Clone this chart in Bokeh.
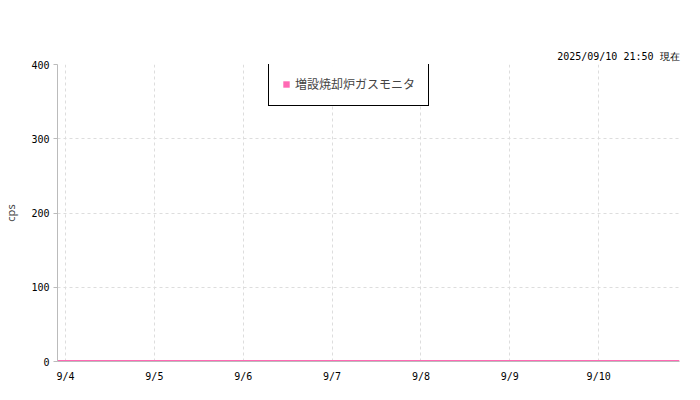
import pandas as pd
from bokeh.plotting import figure
from bokeh.models import Range1d, FixedTicker, Legend, LegendItem
from bokeh.embed import file_html
from bokeh.resources import INLINE

series_name = "増設焼却炉ガスモニタ"
timestamp_text = "2025/09/10 21:50 現在"
y_label = "cps"

times = [
    "2025-09-03 21:50", "2025-09-04 00:00", "2025-09-05 00:00", "2025-09-06 00:00",
    "2025-09-07 00:00", "2025-09-08 00:00", "2025-09-09 00:00", "2025-09-10 00:00",
    "2025-09-10 21:50",
]
cps = [0, 0, 0, 0, 0, 0, 0, 0, 0]

tick_dates = ["2025-09-04", "2025-09-05", "2025-09-06", "2025-09-07",
              "2025-09-08", "2025-09-09", "2025-09-10"]
tick_labels = ["9/4", "9/5", "9/6", "9/7", "9/8", "9/9", "9/10"]
y_ticks = [0, 100, 200, 300, 400]
x_start = "2025-09-03 21:50"
x_end = "2025-09-10 21:50"

ORIGIN = pd.Timestamp(tick_dates[0])


def days(s):
    return float((pd.Timestamp(s) - ORIGIN) / pd.Timedelta(days=1))


x_days = [days(t) for t in times]
tick_pos = [int(round(days(t))) for t in tick_dates]

MONO = "DejaVu Sans Mono"
PINK = "#ff69b4"

p = figure(width=684, height=384, output_backend="svg", toolbar_location=None,
           x_range=Range1d(days(x_start), days(x_end)), y_range=Range1d(0, 400),
           min_border_left=51, min_border_right=5, min_border_bottom=22, min_border_top=64)
p.outline_line_color = None

p.title.text = timestamp_text
p.title.align = "right"
p.title.text_font = MONO
p.title.text_font_size = "10px"
p.title.text_font_style = "normal"
p.title.text_color = "black"
p.title.standoff = 6

line_r = p.line(x_days, cps, line_color=PINK, line_width=3)
# legend key only (hidden in the plot, used for the square swatch)
key = p.vbar(x=x_days, top=cps, width=0.01, fill_color=PINK, line_color=None, visible=False)

# axes
p.xaxis.ticker = FixedTicker(ticks=tick_pos)
p.xaxis.major_label_overrides = {t: l for t, l in zip(tick_pos, tick_labels)}
p.xaxis.major_tick_line_color = None
p.xaxis.minor_tick_line_color = None
p.xaxis.axis_line_color = "#bbbbbb"
p.xaxis.major_label_text_font = MONO
p.xaxis.major_label_text_font_size = "10px"
p.xaxis.major_label_text_color = "black"
p.xaxis.major_label_standoff = 3

p.yaxis.ticker = FixedTicker(ticks=y_ticks)
p.yaxis.minor_tick_line_color = None
p.yaxis.axis_line_color = "#bbbbbb"
p.yaxis.major_tick_line_color = "#bbbbbb"
p.yaxis.major_tick_in = 0
p.yaxis.major_tick_out = 4
p.yaxis.major_label_text_font = MONO
p.yaxis.major_label_text_font_size = "10px"
p.yaxis.major_label_text_color = "black"
p.yaxis.major_label_standoff = 4
p.yaxis.axis_label = y_label
p.yaxis.axis_label_text_font = "Noto Sans"
p.yaxis.axis_label_text_font_size = "11px"
p.yaxis.axis_label_text_font_style = "normal"
p.yaxis.axis_label_standoff = 10

for g in (p.xgrid, p.ygrid):
    g.grid_line_color = "#dddddd"
    g.grid_line_dash = "3 3"
p.xgrid.ticker = FixedTicker(ticks=tick_pos)
p.ygrid.ticker = FixedTicker(ticks=y_ticks)

legend = Legend(items=[LegendItem(label=series_name, renderers=[key])],
                orientation="horizontal", location=(211, 255),
                padding=13, glyph_width=8, glyph_height=8, label_height=14,
                label_standoff=5, label_text_font="Noto Sans CJK JP",
                label_text_font_size="12px", border_line_color="black",
                border_line_width=1, border_line_alpha=1.0, margin=0,
                background_fill_color="white")
p.add_layout(legend)

open("out.html", "w").write(file_html(p, INLINE))
